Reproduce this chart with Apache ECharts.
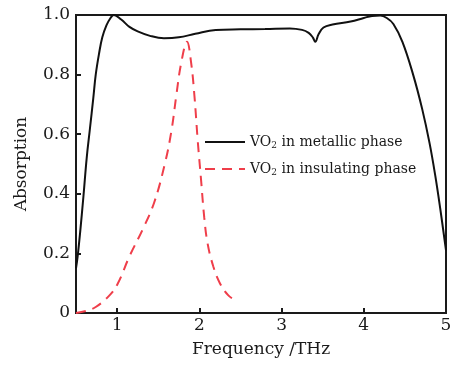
<!DOCTYPE html>
<html>
<head>
<meta charset="utf-8">
<script src="https://cdn.jsdelivr.net/npm/echarts@6/dist/echarts.min.js"></script>
<style>
    html, body { margin: 0; padding: 0; background: #fff; }
    #main { width: 458px; height: 367px; }
</style>
</head>
<body>
<div id="main"></div>
<script>
// 金属相 VO2 吸收曲线
let metalFreq = [0.5, 0.52, 0.55, 0.59, 0.63, 0.67, 0.71, 0.74, 0.78, 0.82, 0.87, 0.92, 0.96, 1.05, 1.15, 1.25, 1.4, 1.57, 1.75, 1.95, 2.2, 2.5, 2.8, 3.1, 3.25, 3.33, 3.38, 3.41, 3.45, 3.51, 3.62, 3.84, 4.0, 4.1, 4.2, 4.28, 4.36, 4.47, 4.6, 4.71, 4.8, 4.87, 4.93, 5.0];
let metalAbs = [0.15, 0.19, 0.27, 0.39, 0.52, 0.62, 0.72, 0.80, 0.87, 0.925, 0.965, 0.99, 1.0, 0.985, 0.96, 0.945, 0.93, 0.922, 0.925, 0.937, 0.95, 0.952, 0.953, 0.955, 0.95, 0.94, 0.925, 0.91, 0.935, 0.958, 0.968, 0.978, 0.99, 0.997, 0.998, 0.99, 0.97, 0.91, 0.80, 0.685, 0.57, 0.46, 0.35, 0.21];
// 绝缘相 VO2 吸收曲线
let insulFreq = [0.5, 0.62, 0.74, 0.91, 1.01, 1.15, 1.31, 1.45, 1.58, 1.66, 1.72, 1.78, 1.85, 1.90, 1.94, 1.98, 2.02, 2.06, 2.10, 2.17, 2.25, 2.35, 2.43];
let insulAbs = [0.0, 0.007, 0.02, 0.06, 0.10, 0.19, 0.28, 0.37, 0.50, 0.61, 0.73, 0.84, 0.91, 0.84, 0.73, 0.58, 0.45, 0.32, 0.234, 0.156, 0.10, 0.06, 0.044];
let xTicks = [1, 2, 3, 4, 5];

function zip(xs, ys) {
    let out = [];
    for (let i = 0; i < xs.length; i++) {
        out.push([xs[i], ys[i]]);
    }
    return out;
}

let font = 'DejaVu Serif';
let chart = echarts.init(document.getElementById('main'));
let option = {
    animation: false,
    grid: {
        left: 76, right: 12, top: 15, bottom: 54,
        show: true,
        borderColor: '#1a1a1a',
        borderWidth: 2
    },
    legend: {
        orient: 'vertical',
        left: 199,
        top: 130,
        itemWidth: 40,
        itemHeight: 14,
        itemGap: 12,
        data: ['metal', 'insul'],
        itemStyle: {opacity: 0},
        formatter: function (name) {
            return name === 'metal'
                ? '{a|VO}{s|2}{a| in metallic phase}'
                : '{a|VO}{s|2}{a| in insulating phase}';
        },
        textStyle: {
            rich: {
                a: {fontFamily: font, fontSize: 14, color: '#1a1a1a'},
                s: {fontFamily: font, fontSize: 9, color: '#1a1a1a', padding: [7, 0, 0, 0]}
            }
        }
    },
    xAxis: {
        type: 'value',
        min: 0.5,
        max: 5,
        name: 'Frequency /THz',
        nameLocation: 'middle',
        nameGap: 28,
        nameTextStyle: {fontFamily: font, fontSize: 17, color: '#1a1a1a'},
        axisLine: {show: true, lineStyle: {color: '#1a1a1a', width: 2}},
        axisTick: {show: true, inside: true, length: 5, customValues: xTicks, lineStyle: {color: '#1a1a1a', width: 2}},
        axisLabel: {customValues: xTicks, margin: 4, fontFamily: font, fontSize: 17, color: '#1a1a1a'},
        splitLine: {show: false}
    },
    yAxis: {
        type: 'value',
        min: 0,
        max: 1,
        interval: 0.2,
        name: 'Absorption',
        nameLocation: 'middle',
        nameGap: 46,
        nameTextStyle: {fontFamily: font, fontSize: 17, color: '#1a1a1a'},
        axisLine: {show: true, lineStyle: {color: '#1a1a1a', width: 2}},
        axisTick: {show: true, inside: true, length: 5, lineStyle: {color: '#1a1a1a', width: 2}},
        axisLabel: {
            margin: 6,
            fontFamily: font, fontSize: 17, color: '#1a1a1a',
            formatter: function (v) {
                return v === 0 ? '0' : v.toFixed(1);
            }
        },
        splitLine: {show: false}
    },
    series: [
        {
            name: 'metal',
            type: 'line',
            data: zip(metalFreq, metalAbs),
            symbol: 'none',
            smooth: 0.4,
            lineStyle: {color: '#111', width: 2}
        },
        {
            name: 'insul',
            type: 'line',
            data: zip(insulFreq, insulAbs),
            symbol: 'none',
            smooth: 0.4,
            itemStyle: {color: '#ef3e4a'},
            lineStyle: {color: '#ef3e4a', width: 2, type: [10, 7]}
        }
    ]
};
chart.setOption(option);
</script>
</body>
</html>
